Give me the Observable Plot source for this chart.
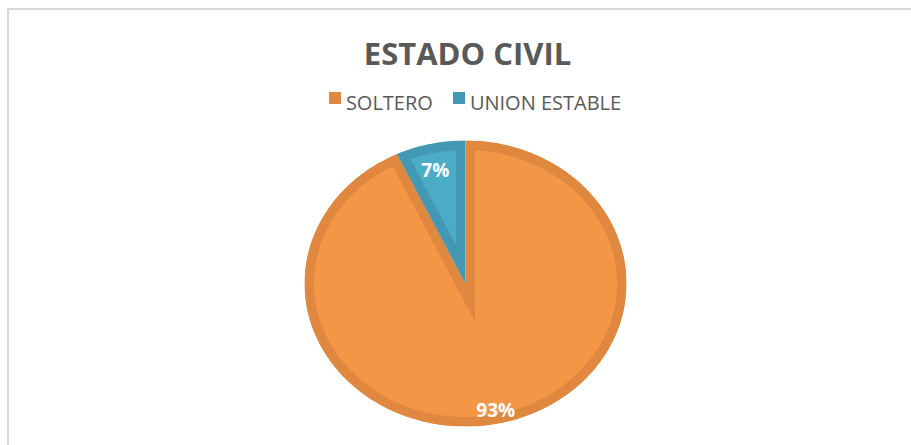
<!DOCTYPE html>
<html><head><meta charset="utf-8">
<script src="https://cdn.jsdelivr.net/npm/d3@7"></script>
<script src="https://cdn.jsdelivr.net/npm/@observablehq/plot@0.6"></script>
<style>
html,body{margin:0;padding:0;background:#fff;overflow:hidden;width:911px;height:445px;}
#frame{position:absolute;left:7px;top:8px;width:1000px;height:1000px;border:2px solid #d9d9d9;}
#title{position:absolute;left:0;top:38px;width:935px;text-align:center;font-family:"Open Sans";font-weight:bold;font-size:31px;color:#595959;line-height:31px;white-space:nowrap;}
#legend{position:absolute;left:0;top:93px;width:950px;display:flex;justify-content:center;font-family:"Open Sans";font-size:20px;color:#595959;line-height:20px;white-space:nowrap;}
.item{display:flex;align-items:flex-start;margin:0 10px;}
.sw{width:12px;height:12px;margin-top:-1px;margin-right:5px;}
#chart{position:absolute;left:0;top:125px;}
</style></head><body>
<div id="frame"></div>
<div id="title">ESTADO CIVIL</div>
<div id="legend"></div>
<div id="chart"></div>
<script>
// Data
const categories = ["SOLTERO", "UNION ESTABLE"];
const values = [93, 7];
const percentLabels = ["93%", "7%"];

// Styles
const fillColors = {"SOLTERO": "#F39646", "UNION ESTABLE": "#4BACC6"};
const strokeColors = {"SOLTERO": "#E0883F", "UNION ESTABLE": "#4399B4"};

// Legend
const legend = document.getElementById("legend");
categories.forEach(c => {
  const it = document.createElement("div"); it.className = "item";
  const sw = document.createElement("div"); sw.className = "sw"; sw.style.background = strokeColors[c];
  const tx = document.createElement("span"); tx.textContent = c;
  it.appendChild(sw); it.appendChild(tx); legend.appendChild(it);
});

// Pie geometry from values
const arcs = d3.pie().sort(null).value((d, i) => values[i])(categories);
const slices = [];
const labelData = [];
arcs.forEach(p => {
  const cat = categories[p.index];
  slices.push({cat, x: 0, y: 0});
  const n = Math.max(2, Math.ceil((p.endAngle - p.startAngle) / (Math.PI / 180)));
  for (let k = 0; k <= n; k++) {
    const a = p.startAngle + (p.endAngle - p.startAngle) * k / n;
    slices.push({cat, x: Math.sin(a), y: Math.cos(a)});
  }
  const m = (p.startAngle + p.endAngle) / 2;
  labelData.push({cat, text: percentLabels[p.index], x: 0.86 * Math.sin(m), y: 0.86 * Math.cos(m)});
});

const svg = Plot.plot({
  width: 911,
  height: 320,
  margin: 0,
  x: {domain: [-1, 1], range: [304, 626], axis: null},
  y: {domain: [-1, 1], range: [301, 15], axis: null},
  color: {type: "identity"},
  style: {background: "transparent", overflow: "visible"},
  marks: [
    Plot.line(slices, {
      x: "x", y: "y", z: "cat",
      fill: d => fillColors[d.cat],
      stroke: d => strokeColors[d.cat],
      strokeWidth: 19,
      strokeLinejoin: "miter",
      strokeMiterlimit: 10,
      curve: "linear-closed"
    }),
    Plot.text(labelData, {
      x: "x", y: "y", text: "text",
      fill: "white", fontSize: 19, fontWeight: "bold", fontFamily: "Open Sans", dy: 7
    })
  ]
});

// inside-aligned borders: clip each slice path to itself
svg.querySelectorAll('g[aria-label="line"] path').forEach((p, i) => {
  const ns = "http://www.w3.org/2000/svg";
  const cp = document.createElementNS(ns, "clipPath");
  cp.setAttribute("id", "sliceclip" + i);
  const cpath = document.createElementNS(ns, "path");
  cpath.setAttribute("d", p.getAttribute("d"));
  cp.appendChild(cpath);
  svg.insertBefore(cp, svg.firstChild);
  p.setAttribute("clip-path", `url(#sliceclip${i})`);
});

document.getElementById("chart").appendChild(svg);
</script>
</body></html>
